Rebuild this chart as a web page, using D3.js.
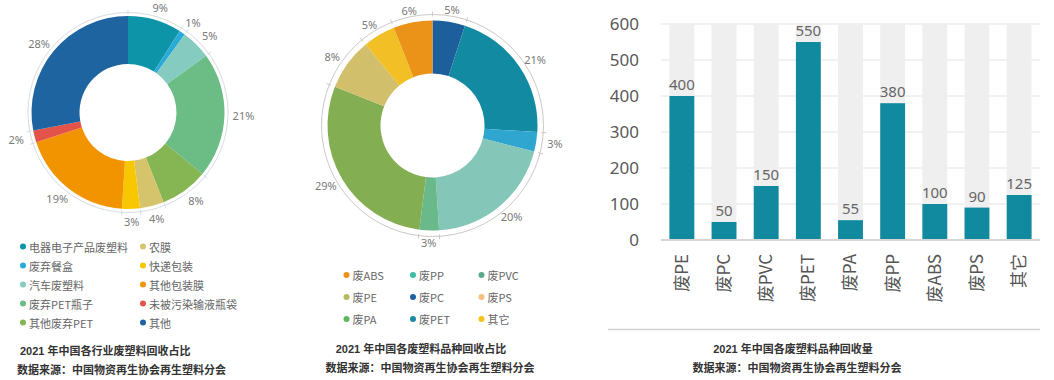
<!DOCTYPE html>
<html><head><meta charset="utf-8">
<script src="https://cdn.jsdelivr.net/npm/d3@7"></script>
<style>
body{margin:0;background:#fff;}
svg{display:block;}
</style></head>
<body><svg id="c" width="1054" height="380"></svg>
<script>
// Left donut: industry share
const leftLabels = ["电器电子产品废塑料","废弃餐盒","汽车废塑料","废弃PET瓶子","其他废弃PET","农膜","快递包装","其他包装膜","未被污染输液瓶袋","其他"];
const leftValues = [9,1,5,21,8,4,3,19,2,28];
const leftColors = ["#0e94a8","#2aaad8","#86cbbf","#6bbd85","#86b553","#d6c46c","#f9c700","#f29400","#e4534a","#1e64a0"];

// Middle donut: plastic type share (as drawn)
const midValues = [5,21,3,20,3,29,8,5,6];
const midColors = ["#1c5f9c","#128aa2","#2fa6d0","#84c6b8","#69b98a","#83ae52","#d2bf6c","#f2c026","#eb9218"];
const midLegendLabels = ["废ABS","废PP","废PVC","废PE","废PC","废PS","废PA","废PET","其它"];
const midLegendColors = ["#ec9018","#3dbca4","#5ca98a","#b9b85a","#1d5fa0","#f4c080","#5ab85a","#1a89a3","#f6c418"];

// Right bar chart: recovery volume
const barCategories = ["废PE","废PC","废PVC","废PET","废PA","废PP","废ABS","废PS","其它"];
const barValues = [400,50,150,550,55,380,100,90,125];
const yTicks = [0,100,200,300,400,500,600];

const captions = {
  left: ["2021 年中国各行业废塑料回收占比","数据来源：中国物资再生协会再生塑料分会"],
  mid: ["2021 年中国各废塑料品种回收占比","数据来源：中国物资再生协会再生塑料分会"],
  right: ["2021 年中国各废塑料品种回收量","数据来源：中国物资再生协会再生塑料分会"]
};

const svg = d3.select("#c");
const FONT = "'Noto Sans','Open Sans','Noto Sans CJK SC',sans-serif";
const CJK = "'Noto Sans CJK SC','Noto Sans',sans-serif";
const CAP = "'Liberation Sans','Noto Sans CJK SC',sans-serif";

function donut(cx, cy, rIn, rOut, rRing, rLab, values, colors, ringColor){
  const g = svg.append("g").attr("transform",`translate(${cx},${cy})`);
  const pie = d3.pie().sort(null).value(d=>d)(values);
  g.append("circle").attr("r",rRing).attr("fill","none").attr("stroke",ringColor).attr("stroke-width",1);
  pie.forEach(p=>{
    const a = p.startAngle;
    g.append("line")
      .attr("x1",Math.sin(a)*(rRing-2)).attr("y1",-Math.cos(a)*(rRing-2))
      .attr("x2",Math.sin(a)*(rRing+3)).attr("y2",-Math.cos(a)*(rRing+3))
      .attr("stroke",ringColor).attr("stroke-width",1);
  });
  const arc = d3.arc().innerRadius(rIn).outerRadius(rOut);
  g.selectAll("path.s").data(pie).enter().append("path")
    .attr("d",arc).attr("fill",(d,i)=>colors[i]);
  const la = d3.arc().innerRadius(rLab).outerRadius(rLab);
  g.selectAll("text.l").data(pie).enter().append("text")
    .attr("transform",d=>{
      const [px,py] = la.centroid(d);
      const m = (d.startAngle+d.endAngle)/2;
      return `translate(${px+Math.sin(m)*8},${py-Math.cos(m)*1.5})`;
    })
    .attr("text-anchor","middle").attr("dominant-baseline","central")
    .attr("font-family",FONT).attr("font-size",11).attr("fill","#7a7a7a")
    .text(d=>d.data+"%");
}

// Left donut
donut(128,112.5,48.5,96.5,100,107.5,leftValues,leftColors,"#d5dde3");
leftLabels.forEach((t,i)=>{
  const col = Math.floor(i/5), row = i%5;
  const x = col===0?23:143, y = 246.5+row*19;
  svg.append("circle").attr("cx",x).attr("cy",y).attr("r",3).attr("fill",leftColors[i]);
  svg.append("text").attr("x",x+6).attr("y",y).attr("dominant-baseline","central")
    .attr("font-family",CJK).attr("font-size",11).attr("fill","#666").text(t);
});
svg.append("text").attr("x",20).attr("y",355).attr("font-family",CAP).attr("font-weight","bold")
  .attr("font-size",11).attr("fill","#333").text(captions.left[0]);
svg.append("text").attr("x",17).attr("y",374).attr("font-family",CAP).attr("font-weight","bold")
  .attr("font-size",11).attr("fill","#333").text(captions.left[1]);

// Middle donut
donut(432.5,125.5,52,105,111,116,midValues,midColors,"#cfc8c8");
midLegendLabels.forEach((t,i)=>{
  const row = Math.floor(i/3), col = i%3;
  const x = [346.5,413,481.5][col], y = 275+row*22;
  svg.append("circle").attr("cx",x).attr("cy",y).attr("r",3).attr("fill",midLegendColors[i]);
  svg.append("text").attr("x",x+6).attr("y",y).attr("dominant-baseline","central")
    .attr("font-family",CJK).attr("font-size",11).attr("fill","#666").text(t);
});
svg.append("text").attr("x",421).attr("y",353).attr("text-anchor","middle").attr("font-family",CAP).attr("font-weight","bold")
  .attr("font-size",11).attr("fill","#333").text(captions.mid[0]);
svg.append("text").attr("x",430).attr("y",372).attr("text-anchor","middle").attr("font-family",CAP).attr("font-weight","bold")
  .attr("font-size",11).attr("fill","#333").text(captions.mid[1]);

// Bar chart
const x = d3.scaleBand().domain(barCategories).range([661,1040]).paddingInner(0.41).paddingOuter(0.2);
const y = d3.scaleLinear().domain([0,600]).range([240,24]);
const gb = svg.append("g");
gb.selectAll("line.g").data(yTicks).enter().append("line")
  .attr("x1",661).attr("x2",1040).attr("y1",d=>y(d)).attr("y2",d=>y(d))
  .attr("stroke","#e3e3e3").attr("stroke-width",1);
gb.selectAll("rect.bg").data(barCategories).enter().append("rect")
  .attr("x",d=>x(d)).attr("width",x.bandwidth()).attr("y",y(600)).attr("height",y(0)-y(600))
  .attr("fill","#efefef");
gb.selectAll("rect.b").data(barValues).enter().append("rect")
  .attr("x",(d,i)=>x(barCategories[i])).attr("width",x.bandwidth())
  .attr("y",d=>y(d)).attr("height",d=>y(0)-y(d)).attr("fill","#118aa0");
gb.append("line").attr("x1",661).attr("x2",1040).attr("y1",y(0)).attr("y2",y(0))
  .attr("stroke","#d6d6d6").attr("stroke-width",2);
gb.selectAll("text.v").data(barValues).enter().append("text")
  .attr("x",(d,i)=>x(barCategories[i])+x.bandwidth()/2).attr("y",d=>y(d)-6)
  .attr("text-anchor","middle").attr("font-family",FONT).attr("font-size",15).attr("fill","#666")
  .text(d=>d);
const ya = d3.axisLeft(y).tickValues(yTicks).tickSize(0).tickPadding(0);
const yg = gb.append("g").attr("transform","translate(639,0)").call(ya);
yg.select(".domain").remove();
yg.selectAll("text").attr("font-family",FONT).attr("font-size",17).attr("fill","#595959");
const xa = d3.axisBottom(x).tickSize(0).tickPadding(0);
const xg = gb.append("g").attr("transform","translate(0,254)").call(xa);
xg.select(".domain").remove();
xg.selectAll("text")
  .attr("transform","rotate(-90)").attr("text-anchor","end").attr("dy","0.35em").attr("y",0).attr("x",0)
  .attr("font-family",CJK).attr("font-size",17).attr("fill","#555");
svg.append("line").attr("x1",608).attr("x2",1040).attr("y1",329.5).attr("y2",329.5).attr("stroke","#cfcfcf").attr("stroke-width",1.5);
svg.append("text").attr("x",793).attr("y",353).attr("text-anchor","middle").attr("font-family",CAP).attr("font-weight","bold")
  .attr("font-size",11).attr("fill","#333").text(captions.right[0]);
svg.append("text").attr("x",797).attr("y",372).attr("text-anchor","middle").attr("font-family",CAP).attr("font-weight","bold")
  .attr("font-size",11).attr("fill","#333").text(captions.right[1]);
</script></body></html>
